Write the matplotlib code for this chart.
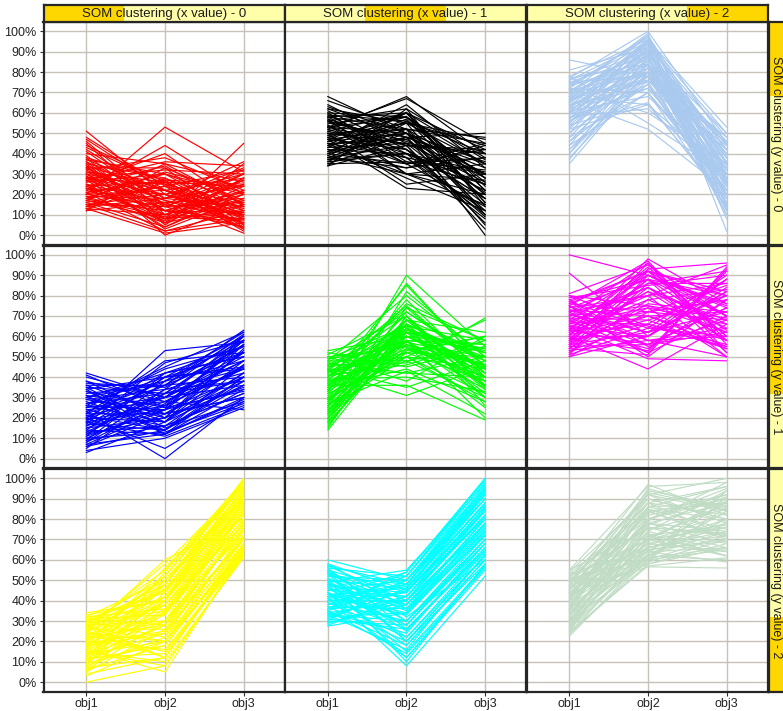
import matplotlib
matplotlib.use("Agg")
import matplotlib.pyplot as plt
from matplotlib.patches import Rectangle

plt.rcParams['font.family'] = ['Liberation Sans', 'DejaVu Sans']

objectives = ['obj1', 'obj2', 'obj3']
y_ticks = [0, 10, 20, 30, 40, 50, 60, 70, 80, 90, 100]
x_strip_labels = ['SOM clustering (x value) - 0',
                  'SOM clustering (x value) - 1',
                  'SOM clustering (x value) - 2']
y_strip_labels = ['SOM clustering (y value) - 0',
                  'SOM clustering (y value) - 1',
                  'SOM clustering (y value) - 2']
panel_colors = [['#FF0000', '#000000', '#A9C9EE'],
                ['#0000FF', '#00FF00', '#FF00FF'],
                ['#FFFF00', '#00FFFF', '#C0DCC4']]

# each row: (obj1, obj2, obj3) in percent
cluster_0_0 = [
    (51, 20, 10), (48, 24, 12), (45, 10, 20), (43, 25, 5), (40, 35, 15),
    (38, 5, 28), (36, 18, 33), (35, 28, 8), (33, 12, 25), (32, 38, 22),
    (30, 8, 45), (30, 22, 3), (29, 3, 18), (28, 32, 30), (27, 15, 10),
    (26, 40, 14), (25, 6, 35), (24, 26, 24), (23, 12, 4), (22, 44, 20),
    (21, 2, 12), (20, 53, 31), (20, 30, 16), (19, 18, 36), (18, 9, 7),
    (18, 24, 2), (17, 35, 26), (16, 4, 20), (15, 20, 9), (15, 14, 30),
    (14, 28, 13), (13, 1, 6), (13, 10, 22), (12, 16, 1), (12, 33, 17),
    (41, 15, 32), (37, 22, 11), (34, 0, 15), (27, 36, 34), (23, 7, 27),
    (31, 17, 6), (44, 26, 24),
    (39, 12, 8), (37, 30, 20), (36, 8, 12), (34, 22, 28), (33, 33, 5),
    (32, 14, 16), (31, 26, 10), (29, 10, 30), (28, 20, 6), (27, 4, 22),
    (26, 30, 9), (25, 16, 18), (24, 34, 12), (23, 20, 30), (22, 10, 8),
    (21, 27, 25), (20, 14, 4), (19, 6, 15), (18, 31, 21), (17, 12, 11),
    (16, 24, 32), (15, 2, 8), (14, 18, 24), (13, 26, 3), (35, 6, 24),
    (38, 27, 4), (42, 18, 14), (46, 14, 27), (47, 22, 8), (20, 22, 14),
    (24, 8, 17), (30, 12, 21), (28, 25, 15), (17, 8, 28), (33, 17, 10),
]
cluster_0_1 = [
    (68, 50, 30), (66, 52, 20), (64, 45, 40), (62, 55, 10), (60, 58, 35),
    (59, 40, 25), (58, 52, 45), (57, 30, 15), (56, 62, 38), (55, 48, 5),
    (54, 35, 42), (53, 58, 28), (52, 68, 40), (51, 42, 18), (50, 25, 30),
    (49, 55, 47), (48, 38, 8), (47, 60, 22), (46, 50, 36), (45, 28, 12),
    (44, 64, 33), (43, 45, 26), (42, 33, 44), (41, 57, 16), (40, 48, 50),
    (39, 30, 20), (38, 52, 30), (37, 40, 10), (36, 55, 35), (35, 36, 25),
    (34, 44, 40), (34, 62, 14), (47, 52, 0), (60, 36, 32), (53, 67, 45),
    (45, 47, 21), (38, 33, 38), (57, 44, 6), (47, 23, 20),
    (63, 50, 28), (61, 42, 18), (59, 56, 40), (58, 38, 12), (56, 46, 30),
    (55, 58, 22), (54, 30, 35), (53, 50, 10), (52, 40, 25), (51, 60, 42),
    (50, 45, 15), (49, 35, 38), (48, 58, 28), (47, 42, 9), (46, 55, 44),
    (45, 38, 30), (44, 50, 18), (43, 60, 37), (42, 40, 22), (41, 48, 33),
    (40, 35, 14), (39, 56, 26), (38, 44, 42), (37, 50, 20), (36, 40, 31),
    (35, 48, 12), (56, 35, 45), (62, 48, 35), (50, 52, 48), (44, 30, 27),
    (58, 60, 16), (40, 60, 24), (53, 44, 3),
]
cluster_0_2 = [
    (86, 78, 40), (81, 92, 30), (77, 100, 45), (76, 95, 20), (75, 88, 50),
    (74, 83, 12), (73, 97, 35), (72, 70, 25), (71, 90, 42), (70, 85, 15),
    (69, 80, 30), (68, 93, 48), (67, 75, 22), (66, 98, 38), (65, 87, 10),
    (64, 72, 27), (63, 82, 45), (62, 91, 18), (61, 68, 33), (60, 95, 50),
    (59, 78, 13), (58, 62, 28), (57, 86, 40), (56, 74, 20), (55, 89, 35),
    (54, 65, 16), (53, 80, 45), (52, 64, 30), (50, 92, 25), (48, 70, 14),
    (46, 84, 38), (44, 70, 22), (42, 76, 42), (40, 88, 12), (38, 78, 32),
    (35, 80, 20), (78, 55, 30), (66, 52, 22), (70, 99, 2), (65, 96, 53),
    (78, 96, 32), (77, 84, 18), (76, 90, 44), (75, 78, 26), (74, 94, 8),
    (73, 86, 40), (72, 98, 22), (71, 80, 48), (70, 92, 30), (69, 88, 16),
    (68, 76, 36), (67, 94, 28), (66, 84, 46), (65, 90, 20), (64, 80, 34),
    (63, 96, 14), (62, 76, 42), (61, 88, 26), (60, 82, 38), (59, 92, 18),
    (58, 72, 44), (57, 96, 30), (56, 80, 10), (55, 94, 42), (54, 84, 24),
    (52, 90, 36), (50, 78, 28), (48, 86, 46), (46, 74, 16), (44, 90, 32),
    (42, 82, 24), (40, 80, 40), (37, 84, 28), (72, 60, 35), (68, 64, 18),
]
cluster_1_0 = [
    (42, 30, 50), (40, 30, 60), (38, 20, 35), (37, 35, 55), (36, 36, 63),
    (35, 15, 28), (34, 40, 45), (33, 25, 58), (22, 48, 52), (31, 12, 40),
    (30, 38, 62), (29, 22, 30), (18, 53, 57), (27, 32, 42), (26, 18, 48),
    (25, 44, 55), (24, 28, 24), (23, 0, 30), (22, 36, 60), (21, 14, 38),
    (20, 5, 28), (20, 42, 50), (19, 26, 45), (18, 11, 26), (17, 47, 58),
    (16, 30, 36), (15, 20, 53), (14, 40, 44), (13, 16, 32), (12, 34, 61),
    (11, 24, 40), (10, 13, 27), (9, 38, 48), (8, 27, 56), (7, 12, 34),
    (6, 22, 46), (5, 32, 38), (4, 10, 25), (3, 18, 42), (41, 25, 33),
    (38, 28, 48), (36, 22, 40), (35, 32, 58), (33, 18, 36), (32, 36, 52),
    (31, 26, 44), (30, 20, 56), (29, 34, 38), (28, 14, 46), (27, 40, 60),
    (26, 24, 34), (25, 30, 52), (24, 16, 42), (23, 38, 58), (22, 22, 30),
    (21, 30, 48), (20, 18, 54), (19, 36, 40), (18, 24, 60), (17, 14, 36),
    (16, 40, 52), (15, 28, 44), (14, 12, 30), (13, 32, 56), (12, 20, 38),
    (11, 42, 50), (10, 26, 58), (9, 16, 32), (8, 34, 44), (7, 24, 52),
    (6, 14, 40), (30, 42, 55), (26, 45, 62), (34, 12, 29),
]
cluster_1_1 = [
    (53, 60, 45), (52, 45, 55), (51, 70, 35), (50, 38, 60), (49, 55, 25),
    (48, 80, 50), (47, 42, 40), (46, 65, 30), (45, 50, 68), (44, 35, 48),
    (43, 75, 42), (42, 58, 20), (41, 46, 58), (40, 62, 52), (39, 40, 33),
    (38, 85, 45), (37, 52, 38), (36, 68, 62), (35, 44, 28), (34, 57, 50),
    (33, 78, 40), (32, 48, 55), (43, 31, 45), (30, 66, 35), (29, 53, 60),
    (28, 72, 48), (27, 43, 22), (26, 60, 42), (25, 90, 55), (24, 50, 32),
    (23, 63, 53), (22, 54, 46), (20, 56, 38), (19, 82, 50), (18, 58, 30),
    (17, 60, 44), (15, 70, 36), (14, 62, 52), (36, 36, 19), (46, 47, 69),
    (50, 55, 40), (49, 65, 58), (48, 48, 30), (47, 72, 46), (46, 58, 36),
    (45, 62, 54), (44, 70, 26), (43, 52, 60), (42, 66, 48), (41, 56, 34),
    (40, 74, 42), (39, 60, 56), (38, 50, 28), (37, 64, 50), (36, 54, 40),
    (35, 76, 58), (34, 62, 32), (33, 56, 46), (32, 68, 38), (31, 58, 54),
    (30, 50, 44), (29, 64, 30), (28, 58, 56), (27, 68, 40), (26, 52, 50),
    (25, 66, 34), (24, 60, 46), (23, 74, 58), (22, 62, 40), (21, 68, 52),
    (20, 64, 44), (18, 70, 36), (16, 66, 48), (33, 86, 44), (44, 42, 50),
]
cluster_1_2 = [
    (100, 90, 75), (91, 60, 82), (81, 95, 70), (80, 65, 55), (79, 85, 90),
    (78, 55, 68), (77, 92, 60), (76, 72, 85), (75, 50, 78), (74, 88, 52),
    (73, 62, 72), (72, 80, 95), (71, 58, 64), (70, 96, 58), (69, 68, 80),
    (68, 52, 70), (67, 84, 66), (66, 74, 50), (65, 60, 88), (64, 90, 74),
    (63, 56, 62), (62, 78, 83), (61, 66, 54), (60, 98, 76), (59, 53, 92),
    (58, 82, 68), (57, 70, 58), (56, 62, 80), (55, 88, 63), (54, 76, 72),
    (53, 58, 50), (52, 86, 86), (51, 64, 60), (50, 72, 78), (60, 44, 66),
    (65, 49, 48), (75, 97, 56), (58, 93, 96), (54, 51, 94), (70, 75, 69),
    (80, 75, 62), (78, 88, 80), (77, 64, 90), (76, 92, 70), (75, 58, 60),
    (74, 80, 86), (73, 70, 55), (72, 90, 76), (71, 62, 88), (70, 84, 64),
    (69, 56, 74), (68, 92, 82), (67, 66, 56), (66, 86, 92), (65, 72, 68),
    (64, 54, 78), (63, 94, 60), (62, 70, 72), (61, 82, 58), (60, 60, 84),
    (59, 88, 70), (58, 68, 54), (57, 92, 80), (56, 74, 66), (55, 56, 74),
    (54, 84, 58), (53, 66, 88), (52, 78, 62), (51, 90, 70), (50, 60, 82),
    (56, 96, 52), (72, 52, 93), (63, 80, 50),
]
cluster_2_0 = [
    (34, 40, 85), (33, 40, 100), (32, 50, 90), (31, 28, 70), (30, 45, 95),
    (29, 35, 78), (28, 45, 88), (27, 20, 65), (26, 58, 97), (25, 38, 82),
    (24, 48, 92), (23, 15, 62), (22, 52, 99), (21, 30, 75), (20, 42, 86),
    (19, 25, 70), (18, 56, 96), (17, 33, 80), (16, 46, 91), (15, 10, 61),
    (14, 38, 77), (13, 28, 84), (12, 50, 94), (11, 18, 66), (10, 35, 72),
    (9, 44, 87), (8, 22, 79), (7, 12, 68), (6, 30, 89), (5, 40, 93),
    (3, 20, 74), (0, 8, 63), (16, 5, 64), (25, 60, 80), (25, 12, 67),
    (29, 48, 100), (12, 24, 71), (18, 40, 83), (10, 54, 98), (31, 33, 90),
    (32, 36, 80), (31, 44, 92), (30, 22, 68), (29, 52, 96), (28, 30, 74),
    (27, 42, 86), (26, 26, 70), (25, 50, 94), (24, 20, 64), (23, 38, 84),
    (22, 28, 76), (21, 46, 90), (20, 16, 63), (19, 34, 80), (18, 24, 72),
    (17, 48, 93), (16, 30, 78), (15, 40, 88), (14, 20, 66), (13, 36, 82),
    (12, 14, 64), (11, 42, 90), (10, 28, 76), (9, 20, 70), (8, 48, 95),
    (7, 34, 84), (6, 18, 68), (5, 26, 78), (4, 12, 65), (20, 52, 97),
    (27, 55, 99), (15, 8, 62), (28, 12, 66),
]
cluster_2_1 = [
    (60, 50, 90), (58, 45, 80), (56, 52, 100), (55, 30, 70), (54, 40, 85),
    (53, 20, 62), (52, 48, 95), (51, 35, 75), (50, 25, 66), (49, 55, 97),
    (48, 42, 82), (47, 15, 57), (46, 38, 78), (45, 50, 92), (44, 28, 68),
    (43, 46, 88), (42, 33, 73), (41, 12, 55), (40, 44, 86), (39, 22, 64),
    (38, 52, 96), (37, 36, 80), (36, 48, 90), (35, 18, 60), (34, 40, 76),
    (33, 30, 70), (32, 45, 84), (31, 26, 65), (30, 50, 93), (29, 38, 74),
    (28, 42, 81), (27.5, 34, 72), (44, 8, 52), (50, 10, 58), (36, 54, 99),
    (47, 44, 94), (41, 47, 87), (54, 32, 60), (33, 16, 63), (57, 40, 77),
    (58, 36, 72), (57, 48, 92), (56, 26, 64), (55, 44, 84), (54, 20, 58),
    (53, 38, 78), (52, 50, 96), (51, 30, 68), (50, 46, 90), (49, 22, 62),
    (48, 36, 76), (47, 52, 98), (46, 28, 70), (45, 42, 86), (44, 18, 60),
    (43, 34, 74), (42, 48, 94), (41, 26, 66), (40, 40, 82), (39, 30, 72),
    (38, 44, 88), (37, 20, 62), (36, 38, 80), (35, 50, 95), (34, 24, 68),
    (33, 42, 86), (32, 34, 78), (31, 46, 92), (30, 28, 70), (29, 40, 84),
    (35, 14, 56), (48, 12, 57), (42, 54, 100),
]
cluster_2_2 = [
    (55, 75, 85), (54, 90, 80), (53, 65, 70), (52, 80, 95), (51, 60, 65),
    (50, 85, 75), (49, 70, 90), (48, 97, 82), (47, 62, 60), (46, 78, 88),
    (45, 88, 72), (44, 68, 78), (43, 58, 68), (42, 83, 92), (41, 73, 62),
    (40, 93, 85), (39, 66, 76), (38, 79, 98), (37, 61, 66), (36, 86, 79),
    (35, 71, 87), (34, 64, 59), (33, 76, 73), (32, 82, 90), (31, 69, 83),
    (30, 59, 70), (29, 74, 64), (28, 67, 80), (27, 63, 94), (26, 72, 77),
    (25, 57, 61), (24, 65, 69), (23, 60, 86), (22.6, 62, 74), (48, 92, 100),
    (44, 56.6, 56), (37, 95, 84), (41, 84, 71), (30, 77, 91), (50, 64, 89),
    (53, 84, 88), (52, 70, 76), (51, 92, 84), (50, 76, 66), (49, 88, 96),
    (48, 66, 72), (47, 82, 90), (46, 72, 62), (45, 94, 86), (44, 78, 74),
    (43, 86, 96), (42, 64, 66), (41, 90, 80), (40, 70, 88), (39, 84, 70),
    (38, 62, 78), (37, 80, 92), (36, 68, 64), (35, 88, 82), (34, 74, 94),
    (33, 60, 72), (32, 78, 68), (31, 62, 80), (30, 86, 88), (29, 66, 74),
    (28, 80, 90), (27, 70, 62), (26, 62, 84), (25, 76, 72), (24, 58, 66),
    (36, 92, 78), (46, 60, 94), (55, 96, 98),
]

panels = [[cluster_0_0, cluster_0_1, cluster_0_2],
          [cluster_1_0, cluster_1_1, cluster_1_2],
          [cluster_2_0, cluster_2_1, cluster_2_2]]

W, H = 783, 711
fig = plt.figure(figsize=(W / 100, H / 100), dpi=100)


def px_box(x, y, w, h):
    # pixel box (top-left origin) -> figure fraction
    return [x / W, 1 - (y + h) / H, w / W, h / H]


col_left = [43.5, 285.0, 526.5]
row_top = [22.0, 245.5, 469.0]
pw, ph = 241.0, 222.5
frame = '#262626'
strip_bg = '#FFFFAA'
strip_on = '#FFD700'
xs = [1, 2, 3]

for i in range(3):
    for j in range(3):
        ax = fig.add_axes(px_box(col_left[j], row_top[i], pw, ph))
        for line in panels[i][j]:
            ax.plot(xs, line, color=panel_colors[i][j], lw=0.85)
        ax.set_xlim(0.455, 3.52)
        ax.set_ylim(-4.6, 104.6)
        ax.set_xticks(xs)
        ax.set_xticklabels(objectives)
        ax.set_yticks(y_ticks)
        ax.set_yticklabels([f'{v}%' for v in y_ticks])
        ax.grid(color='#C6C2BA', lw=1.0)
        ax.set_axisbelow(True)
        for s in ax.spines.values():
            s.set_color(frame)
            s.set_linewidth(1.6)
        ax.tick_params(length=3, width=0.8, color='#333333',
                       labelsize=9, labelcolor='#222222', pad=2)
        if j != 0:
            ax.tick_params(left=False, labelleft=False)
        if i != 2:
            ax.tick_params(bottom=False, labelbottom=False)

# column strips along the top
for j in range(3):
    sx = fig.add_axes(px_box(col_left[j], 5, pw, 17))
    sx.set_facecolor(strip_bg)
    sx.add_patch(Rectangle((j / 3, 0), 1 / 3, 1, color=strip_on, lw=0))
    sx.set_xlim(0, 1)
    sx.set_ylim(0, 1)
    sx.set_xticks([])
    sx.set_yticks([])
    for s in sx.spines.values():
        s.set_color(frame)
        s.set_linewidth(1.6)
    sx.text(0.5, 0.5, x_strip_labels[j], ha='center', va='center',
            fontsize=9.5, color='#1A1A1A')

# row strips on the right (the strip itself runs past the figure edge)
for i in range(3):
    sy = fig.add_axes(px_box(768.5, row_top[i], 17, ph))
    sy.set_facecolor(strip_bg)
    sy.add_patch(Rectangle((0, 1 - (i + 1) / 3), 1, 1 / 3, color=strip_on, lw=0))
    sy.set_xlim(0, 1)
    sy.set_ylim(0, 1)
    sy.set_xticks([])
    sy.set_yticks([])
    for s in sy.spines.values():
        s.set_color(frame)
        s.set_linewidth(1.6)
    sy.text(0.42, 0.5, y_strip_labels[i], ha='center', va='center',
            rotation=-90, fontsize=9, color='#1A1A1A')

fig.savefig('out.png', dpi=100)
